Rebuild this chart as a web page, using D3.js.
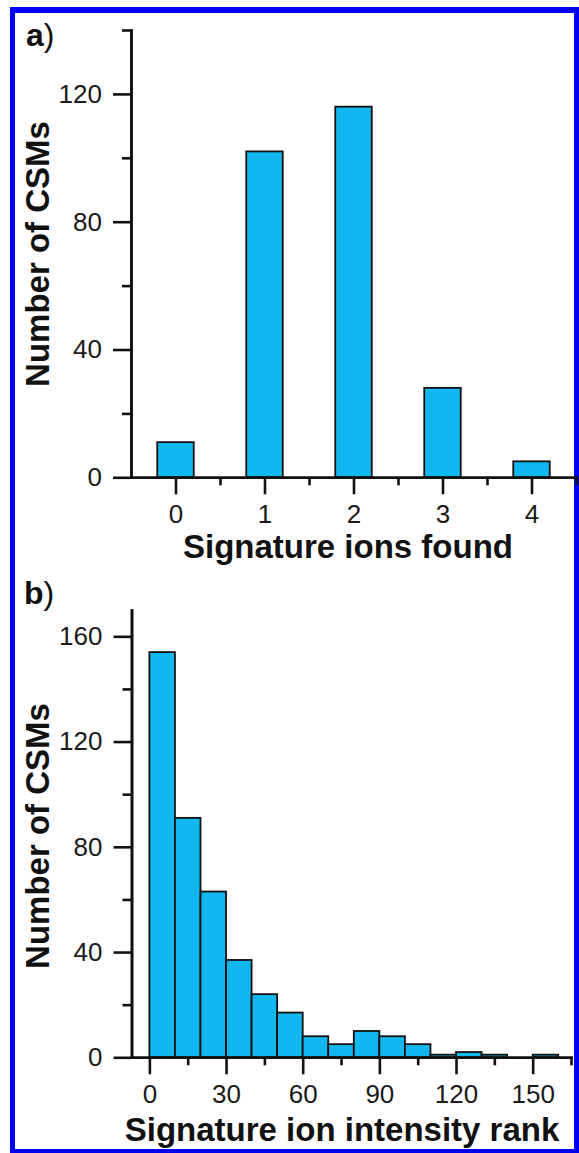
<!DOCTYPE html>
<html>
<head>
<meta charset="UTF-8" />
<title>Signature ions</title>
<script src="https://d3js.org/d3.v7.min.js"></script>
<style>
  html, body { margin: 0; padding: 0; background: #fff; overflow: hidden; }
  svg { display: block; font-family: "Liberation Sans", Arial, sans-serif; }
  .axis path, .axis line { stroke: #111; stroke-width: 2.6px; }
  .axis text { font-size: 26px; fill: #1a1a1a; font-family: "Liberation Sans", Arial, sans-serif; }
  .title { font-size: 33px; font-weight: bold; fill: #111; }
  .bar { fill: #12b7ef; stroke: #111; stroke-width: 1.8px; }
</style>
</head>
<body>
<svg id="chart" width="579" height="1153"></svg>
<script>
// panel a: number of signature ions found per CSM
const ionsFound = [0, 1, 2, 3, 4];
const ionsCounts = [11, 102, 116, 28, 5];
const ionsXTicks = [0, 1, 2, 3, 4];
const ionsXMinor = [0.5, 1.5, 2.5, 3.5, 4.5];
const ionsYTicks = [0, 40, 80, 120];
const ionsYMinor = [20, 60, 100, 140];

// panel b: histogram of signature ion intensity rank (bins of 10)
const rankBinStart = [0, 10, 20, 30, 40, 50, 60, 70, 80, 90, 100, 110, 120, 130, 140, 150];
const rankBinEnd = [10, 20, 30, 40, 50, 60, 70, 80, 90, 100, 110, 120, 130, 140, 150, 160];
const rankCounts = [154, 91, 63, 37, 24, 17, 8, 5, 10, 8, 5, 1, 2, 1, 0, 1];
const rankXTicks = [0, 30, 60, 90, 120, 150];
const rankXMinor = [15, 45, 75, 105, 135, 165];
const rankYTicks = [0, 40, 80, 120, 160];
const rankYMinor = [20, 60, 100, 140];

const svg = d3.select('#chart');
const fmt = d3.format('d');

// blue frame
svg.append('rect').attr('x', 10).attr('y', 7).attr('width', 5).attr('height', 1146).attr('fill', '#0000f5');
svg.append('rect').attr('x', 10).attr('y', 7).attr('width', 569).attr('height', 6).attr('fill', '#0000f5');
svg.append('rect').attr('x', 574).attr('y', 7).attr('width', 5).attr('height', 1146).attr('fill', '#0000f5');
svg.append('rect').attr('x', 10).attr('y', 1149).attr('width', 569).attr('height', 4).attr('fill', '#0000f5');

function drawAxes(g, x, y, xTicks, xMinor, yTicks, yMinor) {
  const y0 = y.range()[0];
  const x0 = x.range()[0];
  g.append('g').attr('class', 'axis').attr('transform', `translate(0,${y0})`)
    .call(d3.axisBottom(x).tickValues(xMinor).tickSize(8).tickSizeOuter(0).tickFormat(''));
  g.append('g').attr('class', 'axis').attr('transform', `translate(0,${y0})`)
    .call(d3.axisBottom(x).tickValues(xTicks).tickSize(17).tickSizeOuter(0).tickPadding(10).tickFormat(fmt));
  g.append('g').attr('class', 'axis').attr('transform', `translate(${x0},0)`)
    .call(d3.axisLeft(y).tickValues(yMinor).tickSize(9).tickSizeOuter(0).tickFormat(''));
  g.append('g').attr('class', 'axis').attr('transform', `translate(${x0},0)`)
    .call(d3.axisLeft(y).tickValues(yTicks).tickSize(18).tickSizeOuter(0).tickPadding(11).tickFormat(fmt));
  g.selectAll('.axis .domain').attr('stroke-linecap', 'square');
}

// ---- panel a ----
const xa = d3.scaleLinear().domain([-0.5, 4.5]).range([131, 576]);
const ya = d3.scaleLinear().domain([0, 140]).range([477.3, 30]);
const ga = svg.append('g');
const barW = 0.41;

ga.selectAll('rect.bar')
  .data(ionsFound)
  .enter().append('rect')
  .attr('class', 'bar')
  .attr('x', (d) => xa(d - barW / 2))
  .attr('width', (d) => xa(d + barW / 2) - xa(d - barW / 2))
  .attr('y', (d, i) => ya(ionsCounts[i]))
  .attr('height', (d, i) => ya(0) - ya(ionsCounts[i]));

drawAxes(ga, xa, ya, ionsXTicks, ionsXMinor, ionsYTicks, ionsYMinor);

ga.append('text').attr('class', 'title').attr('text-anchor', 'middle')
  .attr('x', 348).attr('y', 558).text('Signature ions found');
ga.append('text').attr('class', 'title').attr('text-anchor', 'middle')
  .attr('transform', 'translate(49,254) rotate(-90)').text('Number of CSMs');
const la = ga.append('text').attr('x', 26).attr('y', 46).attr('font-size', 32).attr('fill', '#111');
la.append('tspan').attr('font-weight', 'bold').text('a');
la.append('tspan').text(')');

// ---- panel b ----
const xb = d3.scaleLinear().domain([-7, 165]).range([131.5, 571]);
const yb = d3.scaleLinear().domain([0, 170]).range([1057.3, 610]);
const gb = svg.append('g');

gb.selectAll('rect.bar')
  .data(rankCounts)
  .enter().append('rect')
  .attr('class', 'bar')
  .attr('x', (d, i) => xb(rankBinStart[i]))
  .attr('width', (d, i) => xb(rankBinEnd[i]) - xb(rankBinStart[i]))
  .attr('y', (d) => yb(d))
  .attr('height', (d) => yb(0) - yb(d));

drawAxes(gb, xb, yb, rankXTicks, rankXMinor, rankYTicks, rankYMinor);

gb.append('text').attr('class', 'title').attr('text-anchor', 'middle')
  .attr('x', 342).attr('y', 1141).text('Signature ion intensity rank');
gb.append('text').attr('class', 'title').attr('text-anchor', 'middle')
  .attr('transform', 'translate(49,836) rotate(-90)').text('Number of CSMs');
const lb = gb.append('text').attr('x', 24).attr('y', 604).attr('font-size', 32).attr('fill', '#111');
lb.append('tspan').attr('font-weight', 'bold').text('b');
lb.append('tspan').text(')');
</script>
</body>
</html>
